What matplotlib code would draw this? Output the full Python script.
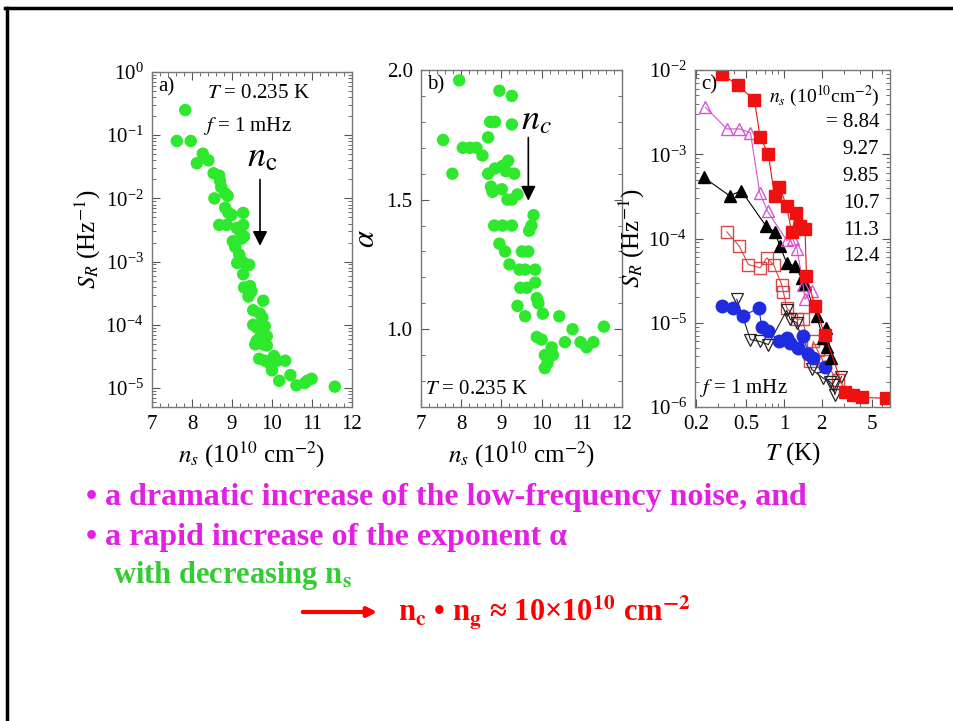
import matplotlib
matplotlib.use("Agg")
import matplotlib.pyplot as plt
from matplotlib.lines import Line2D
from matplotlib.patches import FancyArrowPatch
from matplotlib.ticker import MultipleLocator, FixedLocator, FixedFormatter, LogLocator, NullFormatter

plt.rcParams['font.family'] = ['Liberation Serif', 'DejaVu Serif']
plt.rcParams['mathtext.fontset'] = 'stix'

# panel a: noise S_R vs n_s at T = 0.235 K
ns_a = [7.62, 7.83, 7.97, 8.12, 8.27, 8.41, 8.54, 8.68, 8.70, 8.73, 8.56, 8.83, 8.89,
        8.83, 8.91, 8.99, 8.68, 8.87, 9.28, 9.28, 9.12, 9.20, 9.02, 9.08, 9.24, 9.30,
        9.18, 9.13, 9.26, 9.36, 9.43, 9.28, 9.30, 9.45, 9.49, 9.41, 9.78, 9.53, 9.70,
        9.76, 9.53, 9.62, 9.82, 9.62, 9.58, 9.70, 9.87, 9.78, 9.87, 9.68, 9.82, 9.95,
        10.05, 10.0, 10.12, 10.33, 10.18, 10.46, 10.61, 10.82, 10.88, 10.99, 11.57]
sr_a = [0.081, 0.25, 0.081, 0.036, 0.051, 0.040, 0.025, 0.023, 0.019, 0.015, 0.010, 0.012, 0.011,
        0.0071, 0.0059, 0.0055, 0.0038, 0.0038, 0.0059, 0.0038, 0.0034, 0.0030, 0.0021, 0.0017, 0.0023, 0.0025,
        0.0013, 0.00095, 0.0010, 0.00089, 0.00089, 0.00063, 0.00039, 0.00041, 0.00034, 0.00028, 0.00024, 0.00017, 0.00015,
        0.00013, 0.00010, 0.000091, 0.000095, 0.000056, 0.000049, 0.000063, 0.000066, 0.000049, 0.000047, 0.000029, 0.000027, 0.000024,
        0.000032, 0.000019, 0.000027, 0.000027, 0.000013, 0.000016, 0.000011, 0.000012, 0.000013, 0.000014, 0.0000105]

# panel b: exponent alpha vs n_s
ns_b = [7.95, 8.95, 9.26, 8.72, 8.84, 9.26, 7.55, 8.67, 8.04, 8.22, 8.38, 8.53, 7.78, 8.67,
        8.84, 9.03, 9.17, 9.32, 9.11, 8.74, 8.78, 9.01, 9.15, 9.26, 9.40, 9.80, 9.75, 9.69,
        8.82, 9.03, 9.26, 8.95, 9.09, 9.51, 9.67, 9.20, 9.45, 9.59, 9.84, 9.84, 9.47, 9.63,
        9.88, 9.92, 9.40, 9.59, 10.44, 10.03, 10.77, 11.55, 9.88, 10.0, 10.58, 10.97, 11.12,
        11.29, 10.25, 10.08, 10.28, 10.08, 10.15]
alpha_b = [1.96, 1.92, 1.90, 1.80, 1.80, 1.79, 1.73, 1.74, 1.70, 1.70, 1.70, 1.67, 1.60, 1.60,
           1.62, 1.63, 1.65, 1.60, 1.61, 1.55, 1.53, 1.54, 1.50, 1.50, 1.52, 1.44, 1.40, 1.38,
           1.40, 1.40, 1.40, 1.33, 1.30, 1.30, 1.30, 1.25, 1.23, 1.23, 1.23, 1.18, 1.16, 1.16,
           1.12, 1.10, 1.09, 1.05, 1.05, 1.06, 1.00, 1.01, 0.97, 0.96, 0.95, 0.95, 0.93,
           0.95, 0.93, 0.90, 0.90, 0.85, 0.87]

# panel c: S_R vs T for several densities
T_884 = [0.32, 0.43, 0.58, 0.645, 0.75, 0.84, 0.92, 1.05, 1.15, 1.25, 1.34, 1.47, 1.51, 1.76, 2.12, 3.05, 3.55, 4.2, 6.45]
S_884 = [8.9e-3, 6.6e-3, 4.4e-3, 1.6e-3, 1.0e-3, 3.2e-4, 4.1e-4, 2.4e-4, 1.2e-4, 2.0e-4, 1.4e-4, 1.3e-4, 3.6e-5, 1.6e-5, 7.1e-6, 1.5e-6, 1.4e-6, 1.3e-6, 1.27e-6]
T_927 = [0.236, 0.35, 0.44, 0.54, 0.64, 0.74, 1.05, 1.17, 1.27, 1.42, 1.47, 1.66]
S_927 = [3.6e-3, 2.0e-3, 2.0e-3, 1.8e-3, 3.5e-4, 2.1e-4, 9.5e-5, 1.0e-4, 7.5e-5, 2.8e-5, 1.9e-5, 2.4e-5]
T_985 = [0.229, 0.37, 0.455, 0.72, 0.84, 0.93, 1.05, 1.22, 1.38, 1.47, 1.82, 2.05, 2.18, 2.22, 2.39]
S_985 = [5.3e-4, 3.2e-4, 3.7e-4, 1.4e-4, 1.2e-4, 8.1e-5, 5.1e-5, 4.7e-5, 3.4e-5, 2.9e-5, 1.2e-5, 6.6e-6, 8.7e-6, 5.2e-6, 3.8e-6]
T_107 = [0.35, 0.44, 0.52, 0.645, 0.73, 0.83, 0.96, 0.99, 1.05, 1.26, 1.42, 1.61, 1.71, 1.85, 2.05, 2.7]
S_107 = [1.2e-4, 8.1e-5, 4.9e-5, 4.5e-5, 5.9e-5, 4.8e-5, 2.8e-5, 2.3e-5, 1.5e-5, 1.1e-5, 1.1e-5, 3.5e-6, 6.0e-6, 4.7e-6, 3.5e-6, 2.1e-6]
T_113 = [0.32, 0.39, 0.47, 0.63, 0.665, 0.75, 0.92, 1.05, 1.12, 1.30, 1.42, 1.56, 1.71, 2.12]
S_113 = [1.6e-5, 1.5e-5, 1.2e-5, 1.5e-5, 8.8e-6, 7.9e-6, 6.0e-6, 6.6e-6, 5.7e-6, 5.0e-6, 6.9e-6, 4.3e-6, 3.8e-6, 3.0e-6]
T_124 = [0.42, 0.54, 0.645, 0.75, 1.05, 1.12, 1.26, 1.66, 2.05, 2.32, 2.47, 2.54, 2.87]
S_124 = [1.9e-5, 6.3e-6, 6.0e-6, 5.5e-6, 1.4e-5, 1.1e-5, 1.0e-5, 2.8e-6, 2.2e-6, 2.0e-6, 1.8e-6, 1.4e-6, 2.3e-6]
density_labels = ["= 8.84", "9.27", "9.85", "10.7", "11.3", "12.4"]

t_ticks = [0.2, 0.5, 1, 2, 5]
t_ticklabels = ["0.2", "0.5", "1", "2", "5"]

green = '#2ee82e'
W, H = 954, 721

fig = plt.figure(figsize=(W / 100, H / 100), dpi=100)


def box(l, t, r, b):
    return [l / W, 1 - b / H, (r - l) / W, (b - t) / H]


def style(ax):
    ax.tick_params(which='both', direction='in', top=True, right=True, labelsize=15,
                   color='#555555', pad=6)
    ax.tick_params(which='major', length=6)
    ax.tick_params(which='minor', length=3)
    for s in ax.spines.values():
        s.set_color('#777777')
        s.set_linewidth(1.0)


# ---- a)
ax1 = fig.add_axes(box(152, 72, 352, 407))
ax1.scatter(ns_a, sr_a, s=80, color=green, edgecolors='none', zorder=3)
ax1.set_yscale('log')
ax1.set_xlim(7, 12)
ax1.set_ylim(5e-6, 1)
ax1.xaxis.set_major_locator(MultipleLocator(1))
ax1.xaxis.set_minor_locator(MultipleLocator(0.2))
ax1.yaxis.set_major_locator(LogLocator(base=10, numticks=10))
ax1.yaxis.set_minor_locator(LogLocator(base=10, subs=range(2, 10), numticks=10))
ax1.yaxis.set_minor_formatter(NullFormatter())
style(ax1)
ax1.set_xlabel(r'$n_s$ (10$^{10}$ cm$^{-2}$)', fontsize=18, labelpad=4)
ax1.set_ylabel(r'$S_R$ (Hz$^{-1}$)', fontsize=18, labelpad=2)
ax1.text(0.03, 0.985, 'a)', transform=ax1.transAxes, fontsize=15, va='top')
ax1.text(0.275, 0.935, r'$T$ = 0.235 K', transform=ax1.transAxes, fontsize=15, va='center')
ax1.text(0.255, 0.84, r'$f$ = 1 mHz', transform=ax1.transAxes, fontsize=15, va='center')
ax1.annotate('', xy=(9.7, 0.0016), xytext=(9.7, 0.022),
             arrowprops=dict(arrowstyle='-|>', color='k', lw=1.2, mutation_scale=22))
ax1.text(9.75, 0.024, r'$n_\mathrm{c}$', fontsize=26, ha='center', va='bottom')

# ---- b)
ax2 = fig.add_axes(box(421, 70, 622, 407))
ax2.scatter(ns_b, alpha_b, s=80, color=green, edgecolors='none', zorder=3)
ax2.set_xlim(7, 12)
ax2.set_ylim(0.7, 2.0)
ax2.xaxis.set_major_locator(MultipleLocator(1))
ax2.xaxis.set_minor_locator(MultipleLocator(0.2))
ax2.yaxis.set_major_locator(MultipleLocator(0.5))
ax2.yaxis.set_minor_locator(MultipleLocator(0.1))
ax2.yaxis.set_major_formatter('{x:.1f}')
style(ax2)
ax2.set_xlabel(r'$n_s$ (10$^{10}$ cm$^{-2}$)', fontsize=18, labelpad=4)
ax2.set_ylabel(r'$\alpha$', fontsize=22, labelpad=4)
ax2.text(0.03, 0.985, 'b)', transform=ax2.transAxes, fontsize=15, va='top')
ax2.text(0.02, 0.025, r'$T$ = 0.235 K', transform=ax2.transAxes, fontsize=15, va='bottom')
ax2.annotate('', xy=(9.67, 1.485), xytext=(9.67, 1.75),
             arrowprops=dict(arrowstyle='-|>', color='k', lw=1.2, mutation_scale=22))
ax2.text(9.88, 1.74, r'$n_c$', fontsize=26, ha='center', va='bottom')

# ---- c)
ax3 = fig.add_axes(box(695, 70, 890, 407))
ax3.plot(T_107, S_107, '-s', color='#d94848', mfc='none', ms=9, lw=0.8, mew=1.0)
ax3.plot(T_124, S_124, '-v', color='#222222', mfc='none', ms=9, lw=0.8, mew=0.9)
ax3.plot(T_113, S_113, '-o', color='#1f2be0', ms=9, lw=0.8)
ax3.plot(T_985, S_985, '-^', color='black', ms=9, lw=0.8)
ax3.plot(T_927, S_927, '-^', color='#d653d6', mfc='none', ms=9, lw=0.8, mew=1.0)
ax3.plot(T_884, S_884, '-s', color='#ee1111', ms=9, lw=0.8)
ax3.set_xscale('log')
ax3.set_yscale('log')
ax3.set_xlim(0.195, 7)
ax3.set_ylim(1e-6, 1e-2)
ax3.xaxis.set_major_locator(FixedLocator(t_ticks))
ax3.xaxis.set_major_formatter(FixedFormatter(t_ticklabels))
ax3.xaxis.set_minor_locator(LogLocator(base=10, subs=range(1, 10), numticks=10))
ax3.xaxis.set_minor_formatter(NullFormatter())
ax3.yaxis.set_major_locator(LogLocator(base=10, numticks=10))
ax3.yaxis.set_minor_locator(LogLocator(base=10, subs=range(2, 10), numticks=10))
ax3.yaxis.set_minor_formatter(NullFormatter())
style(ax3)
ax3.set_xlabel(r'$T$ (K)', fontsize=18, labelpad=4)
ax3.set_ylabel(r'$S_R$ (Hz$^{-1}$)', fontsize=18, labelpad=1)
ax3.text(0.03, 0.985, 'c)', transform=ax3.transAxes, fontsize=15, va='top')
ax3.text(0.945, 0.92, r'$n_s$ (10$^{10}$cm$^{-2}$)', transform=ax3.transAxes,
         fontsize=14, ha='right', va='center')
for i, lab in enumerate(density_labels):
    ax3.text(0.945, 0.843 - i * 0.0795, lab, transform=ax3.transAxes,
             fontsize=15, ha='right', va='center')
ax3.text(0.02, 0.025, r'$f$ = 1 mHz', transform=ax3.transAxes, fontsize=15, va='bottom')

# ---- slide frame
fig.add_artist(Line2D([5 / W, 1], [1 - 8 / H, 1 - 8 / H], color='black', lw=2.5,
                      transform=fig.transFigure))
fig.add_artist(Line2D([7 / W, 7 / W], [0, 1 - 8 / H], color='black', lw=2.5,
                      transform=fig.transFigure))

# ---- bullet text
magenta = '#e21fe2'
fig.text(86 / W, 1 - 498 / H, u'\u2022 a dramatic increase of the low-frequency noise, and',
         color=magenta, fontsize=23, fontweight='bold', va='center')
fig.text(86 / W, 1 - 537 / H, u'\u2022 a rapid increase of the exponent \u03b1',
         color=magenta, fontsize=23, fontweight='bold', va='center')
fig.text(113 / W, 1 - 576 / H, r'with decreasing n$_\mathbf{s}$',
         color='#33cc33', fontsize=22, fontweight='bold', va='center')
fig.add_artist(FancyArrowPatch((300 / W, 1 - 612 / H), (380 / W, 1 - 612 / H),
                               transform=fig.transFigure, arrowstyle='-|>',
                               mutation_scale=14, lw=3, color='red'))
fig.text(398 / W, 1 - 612 / H,
         u'n$_\\mathbf{c}$ \u2022 n$_\\mathbf{g}$ \u2248 10\u00d710$^\\mathbf{10}$ cm$^\\mathbf{-2}$',
         color='red', fontsize=22, fontweight='bold', va='center')

fig.savefig('out.png', dpi=100)
